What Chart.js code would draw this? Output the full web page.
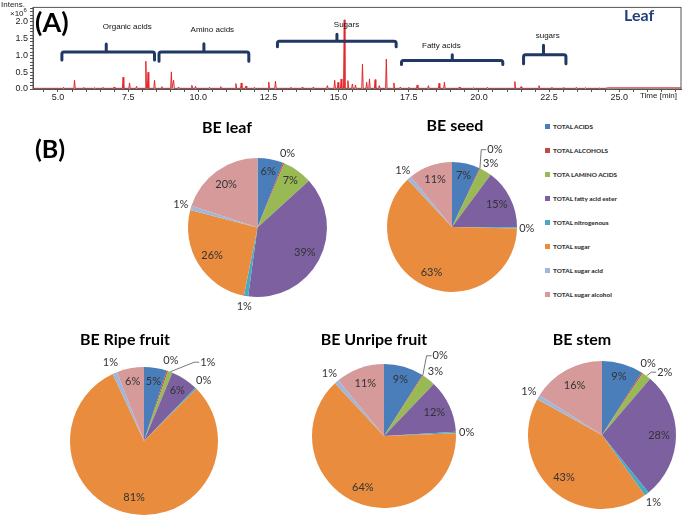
<!DOCTYPE html>
<html>
<head>
<meta charset="utf-8">
<script src="https://cdn.jsdelivr.net/npm/chart.js@4.4.0/dist/chart.umd.min.js"></script>
<style>
  body { margin: 0; width: 685px; height: 515px; overflow: hidden; background: #fff; position: relative; font-family: Lato, 'Liberation Sans', sans-serif; }
  canvas { position: absolute; }
  .txt { position: absolute; white-space: nowrap; }
  .ttl { position: absolute; white-space: nowrap; font-weight: bold; font-size: 16px; color: #000; transform: translate(-50%, -50%); }
  #legend { position: absolute; left: 545px; top: 123px; }
  .item { height: 24px; display: flex; align-items: flex-start; font-size: 6.4px; font-weight: 900; color: #333; }
  .sw { width: 5px; height: 5px; margin: 1px 3px 0 0; }
</style>
</head>
<body>
<canvas id="chromo" width="685" height="106" style="left:0;top:0"></canvas>
<div class="txt" style="left:1px;top:0px;font:8px 'Liberation Sans';color:#222">Intens.</div>
<div class="txt" style="left:10px;top:7px;font:8px 'Liberation Sans';color:#222">×10<sup style="font-size:6px">6</sup></div>
<div class="txt" style="left:35px;top:5px;font:bold 27px Lato;color:#000">(A)</div>
<div class="txt" style="left:624px;top:5px;font:bold 16px Lato;color:#1f3f7a">Leaf</div>
<div class="txt" style="left:640px;top:91px;font:8px 'Liberation Sans';color:#222">Time [min]</div>
<div class="txt" style="left:35px;top:133px;font:bold 25px Lato;color:#000">(B)</div>
<div id="legend"></div>

<script>
// ---- (A) chromatogram, leaf ----
const peakTimes   = [5.2, 5.59, 5.9, 6.3, 6.6, 7.0, 7.32, 7.55, 7.8, 8.13, 8.21, 8.44, 8.7, 9.04, 9.12, 9.3, 9.77, 9.9, 10.4, 10.8, 11.34, 11.53, 11.7, 12.0, 12.51, 12.75, 13.3, 13.7, 14.1, 14.6, 14.86, 14.98, 15.09, 15.2, 15.33, 15.49, 15.6, 15.85, 16.0, 16.1, 16.3, 16.45, 16.7, 16.97, 17.2, 17.5, 17.8, 18.2, 18.58, 18.77, 19.3, 19.8, 20.3, 21.28, 21.5, 22.14, 22.6, 23.0, 23.47, 23.8, 24.3];
const peakHeights = [0.05, 0.26, 0.04, 0.04, 0.05, 0.06, 0.35, 0.18, 0.08, 0.83, 0.5, 0.26, 0.07, 0.51, 0.26, 0.06, 0.11, 0.08, 0.05, 0.07, 0.16, 0.18, 0.09, 0.05, 0.21, 0.23, 0.05, 0.05, 0.06, 0.1, 0.26, 0.2, 0.3, 2.06, 0.25, 0.15, 0.12, 0.74, 0.2, 0.3, 0.28, 0.1, 0.89, 0.18, 0.06, 0.05, 0.12, 0.1, 0.17, 0.2, 0.06, 0.04, 0.05, 0.22, 0.07, 0.1, 0.05, 0.04, 0.05, 0.04, 0.03];
const baseline = 0.02;
const tailLevel = 0.035;   // flat trace after ~24.5 min
const xTicks = [5.0, 7.5, 10.0, 12.5, 15.0, 17.5, 20.0, 22.5, 25.0];
const yTicks = [0.0, 0.5, 1.0, 1.5, 2.0];

const groupNames  = ['Organic acids', 'Amino acids', 'Sugars', 'Fatty acids', 'sugars'];
const groupStart  = [5.14, 8.6, 12.82, 17.24, 21.59];
const groupEnd    = [8.44, 11.8, 17.05, 20.85, 23.1];
const groupNotch  = [6.72, 10.2, 14.94, 19.05, 22.3];
const groupLevel  = [1.10, 1.10, 1.42, 0.85, 1.02];
const groupLeg    = [0.86, 0.83, 1.26, 0.73, 0.75];
const groupTip    = [1.34, 1.35, 1.63, 1.02, 1.30];
const groupLabelX = [7.47, 10.5, 15.28, 18.66, 22.45];
const groupLabelY = [1.86, 1.75, 1.92, 1.30, 1.59];

// ---- (B) pies ----
const categories = ['TOTAL ACIDS', 'TOTAL ALCOHOLS', 'TOTA LAMINO ACIDS', 'TOTAL fatty acid ester',
                    'TOTAL nitrogenous', 'TOTAL sugar', 'TOTAL sugar acid', 'TOTAL sugar alcohol'];
const colors = ['#4A7EBB', '#BE4B48', '#98B954', '#7D60A0', '#46AAC5', '#E98C3E', '#A0B7DA', '#D69A9A'];
const leafValues   = [6, 0.3, 7, 39, 1, 26, 1, 20];
const seedValues   = [7, 0.2, 3, 15, 0.3, 63, 1, 11];
const ripeValues   = [5, 0.3, 1, 6, 0.3, 81, 1, 6];
const unripeValues = [9, 0.2, 3, 12, 0.3, 64, 1, 11];
const stemValues   = [9, 0.3, 2, 28, 1, 43, 1, 16];

// build trace points from the peak list
const trace = [{x: 4.11, y: baseline}];
peakTimes.forEach((t, i) => {
  trace.push({x: t - 0.025, y: baseline});
  trace.push({x: t, y: peakHeights[i]});
  trace.push({x: t + 0.025, y: baseline});
});
trace.push({x: 24.5, y: baseline}, {x: 24.6, y: tailLevel}, {x: 27.2, y: tailLevel});

const near = (arr, v) => arr.some(a => Math.abs(a - v) < 1e-6);

const brackets = {
  id: 'brackets',
  afterDatasetsDraw(chart) {
    const {ctx, scales: {x, y}, chartArea: a} = chart;
    ctx.save();
    ctx.strokeStyle = '#555';
    ctx.lineWidth = 1;
    ctx.strokeRect(a.left, a.top, a.right - a.left, a.bottom - a.top);
    ctx.strokeStyle = '#1f3864';
    ctx.lineWidth = 3;
    ctx.lineJoin = 'round';
    ctx.lineCap = 'round';
    groupNames.forEach((name, i) => {
      const x0 = x.getPixelForValue(groupStart[i]), x1 = x.getPixelForValue(groupEnd[i]);
      const xm = x.getPixelForValue(groupNotch[i]);
      const yl = y.getPixelForValue(groupLevel[i]), yb = y.getPixelForValue(groupLeg[i]);
      const yt = y.getPixelForValue(groupTip[i]);
      ctx.beginPath();
      ctx.moveTo(x0, yb);
      ctx.lineTo(x0, yl + 2);
      ctx.quadraticCurveTo(x0, yl, x0 + 2, yl);
      ctx.lineTo(x1 - 2, yl);
      ctx.quadraticCurveTo(x1, yl, x1, yl + 2);
      ctx.lineTo(x1, yb);
      ctx.moveTo(xm, yl);
      ctx.lineTo(xm, yt);
      ctx.stroke();
      ctx.fillStyle = '#111';
      ctx.font = '8px "Liberation Sans"';
      ctx.textAlign = 'center';
      ctx.textBaseline = 'middle';
      ctx.fillText(name, x.getPixelForValue(groupLabelX[i]), y.getPixelForValue(groupLabelY[i]));
    });
    ctx.restore();
  }
};

const xAll = [], yAll = [];
for (let k = 9; k <= 54; k++) xAll.push(k / 2);
for (let k = 0; k <= 24; k++) yAll.push(k / 10);

new Chart(document.getElementById('chromo'), {
  type: 'line',
  data: { datasets: [{ data: trace, borderColor: '#e3262b', borderWidth: 1, pointRadius: 0, tension: 0 }] },
  options: {
    responsive: false, animation: false,
    layout: { padding: { top: 4, right: 4, left: 0, bottom: 0 } },
    plugins: { legend: { display: false }, tooltip: { enabled: false } },
    scales: {
      x: {
        type: 'linear', min: 4.11, max: 27.2,
        afterBuildTicks: s => { s.ticks = xAll.map(v => ({value: v})); },
        afterFit: s => { s.height = 17; },
        grid: { drawOnChartArea: false, tickLength: 3, color: '#555' },
        border: { color: '#555' },
        ticks: { autoSkip: false, maxRotation: 0, padding: 0, color: '#222', font: { family: 'Liberation Sans', size: 9 },
                 callback: v => near(xTicks, v) ? v.toFixed(1) : '' }
      },
      y: {
        min: 0, max: 2.43,
        afterBuildTicks: s => { s.ticks = yAll.map(v => ({value: v})); },
        afterFit: s => { s.width = 33; },
        grid: { drawOnChartArea: false, tickLength: 3, color: '#555' },
        border: { color: '#555' },
        ticks: { autoSkip: false, padding: 2, color: '#222', font: { family: 'Liberation Sans', size: 9 },
                 callback: v => near(yTicks, v) ? v.toFixed(1) : '' }
      }
    }
  },
  plugins: [brackets]
});

// ---- pies ----
const pieLabels = {
  id: 'pieLabels',
  afterDatasetsDraw(chart, args, opts) {
    const meta = chart.getDatasetMeta(0);
    const data = chart.data.datasets[0].data;
    const total = data.reduce((s, v) => s + v, 0);
    const ctx = chart.ctx;
    const moved = opts.moved || {};
    ctx.save();
    ctx.font = '11px Lato';
    ctx.fillStyle = '#333';
    ctx.strokeStyle = '#555';
    ctx.lineWidth = 0.8;
    ctx.textAlign = 'center';
    ctx.textBaseline = 'middle';
    meta.data.forEach((arc, i) => {
      const p = arc.getProps(['x', 'y', 'startAngle', 'endAngle', 'outerRadius'], true);
      const pct = data[i] / total * 100;
      const txt = Math.round(pct) + '%';
      const mid = (p.startAngle + p.endAngle) / 2;
      let ang = mid, r;
      if (moved[i]) {
        ang = moved[i].deg * Math.PI / 180 - Math.PI / 2;
        r = p.outerRadius * moved[i].dist;
      } else if (pct < 4) r = p.outerRadius * 1.15;
      else r = p.outerRadius * (pct < 10 ? 0.82 : 0.77);
      const lx = p.x + Math.cos(ang) * r, ly = p.y + Math.sin(ang) * r;
      if (moved[i]) {
        const w = ctx.measureText(txt).width;
        ctx.beginPath();
        ctx.moveTo(p.x + Math.cos(mid) * p.outerRadius, p.y + Math.sin(mid) * p.outerRadius);
        ctx.lineTo(lx - w / 2 - 6, ly);
        ctx.lineTo(lx - w / 2 - 1, ly);
        ctx.stroke();
      }
      ctx.fillText(txt, lx, ly);
    });
    ctx.restore();
  }
};

const pies = [
  { title: 'BE leaf',         values: leafValues,   cx: 257.5, cy: 227,   r: 69.5, tx: 227, ty: 126, moved: {} },
  { title: 'BE seed',         values: seedValues,   cx: 452,   cy: 226.5, r: 65,   tx: 455, ty: 124, moved: {1: {deg: 29, dist: 1.36}} },
  { title: 'BE Ripe fruit',   values: ripeValues,   cx: 143.5, cy: 441,   r: 74,   tx: 125, ty: 338, moved: {2: {deg: 39, dist: 1.37}} },
  { title: 'BE Unripe fruit', values: unripeValues, cx: 384,   cy: 435.5, r: 72,   tx: 374, ty: 338, moved: {1: {deg: 35, dist: 1.36}} },
  { title: 'BE stem',         values: stemValues,   cx: 602,   cy: 434.5, r: 74,   tx: 582, ty: 338, moved: {2: {deg: 45, dist: 1.2}} }
];

const pad = 50;
pies.forEach(pc => {
  const cv = document.createElement('canvas');
  const size = Math.round(2 * (pc.r + pad));
  cv.width = size; cv.height = size;
  cv.style.left = (pc.cx - size / 2) + 'px';
  cv.style.top = (pc.cy - size / 2) + 'px';
  document.body.appendChild(cv);
  const t = document.createElement('div');
  t.className = 'ttl';
  t.style.left = pc.tx + 'px';
  t.style.top = pc.ty + 'px';
  t.textContent = pc.title;
  document.body.appendChild(t);
  new Chart(cv, {
    type: 'pie',
    data: { labels: categories, datasets: [{ data: pc.values, backgroundColor: colors, borderWidth: 0 }] },
    options: {
      responsive: false, animation: false,
      layout: { padding: (size - 2 * pc.r) / 2 },
      plugins: { legend: { display: false }, tooltip: { enabled: false }, pieLabels: { moved: pc.moved } }
    },
    plugins: [pieLabels]
  });
});

const lg = document.getElementById('legend');
categories.forEach((c, i) => {
  const d = document.createElement('div');
  d.className = 'item';
  d.innerHTML = '<span class="sw" style="background:' + colors[i] + '"></span>' + c;
  lg.appendChild(d);
});
</script>
</body>
</html>
